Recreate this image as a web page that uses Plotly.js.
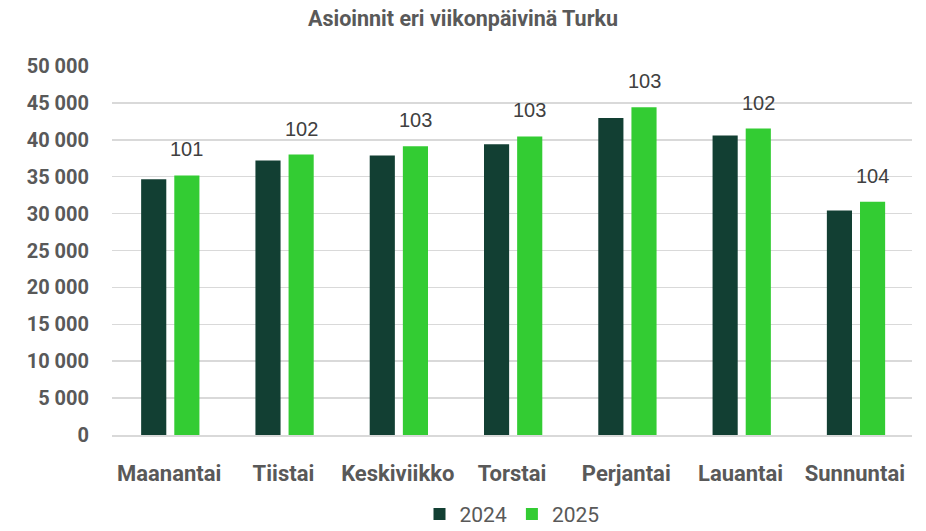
<!DOCTYPE html>
<html><head><meta charset="utf-8">
<script src="https://cdn.plot.ly/plotly-3.0.1.min.js"></script>
<style>html,body{margin:0;padding:0;background:#fff}#chart{width:926px;height:531px}</style>
</head><body><div id="chart"></div>
<script>
const categories = ["Maanantai","Tiistai","Keskiviikko","Torstai","Perjantai","Lauantai","Sunnuntai"];
const values2024 = [34670, 37200, 37880, 39410, 42970, 40590, 30430];
const values2025 = [35170, 38000, 39140, 40450, 44420, 41530, 31600];
const indexLabels = ["101","102","103","103","103","102","104"];
const yTickVals = [0,5000,10000,15000,20000,25000,30000,35000,40000,45000,50000];
const yTickText = ["0","5 000","10 000","15 000","20 000","25 000","30 000","35 000","40 000","45 000","50 000"];

const font = 'Roboto, "Liberation Sans", sans-serif';

const traces = [
  {type:'bar', name:'2024', x:categories, y:values2024, width:0.22, offset:-0.245,
   marker:{color:'#123F33'}, hoverinfo:'skip'},
  {type:'bar', name:'2025', x:categories, y:values2025, width:0.22, offset:0.045,
   marker:{color:'#33CC33'}, hoverinfo:'skip'}
];

const annotations = categories.map((c,i)=>({
  x:c, y:values2025[i], xref:'x', yref:'y', xshift:(0.045+0.11)*114.3,
  text:indexLabels[i], showarrow:false, yanchor:'bottom', yshift:13,
  font:{family:'"Liberation Sans", Arial, sans-serif', size:20, color:'#404040'}
}));

const layout = {
  width:926, height:531,
  margin:{l:112, r:14, t:66, b:96, autoexpand:false},
  paper_bgcolor:'#fff', plot_bgcolor:'#fff',
  title:{text:'<b>Asioinnit eri viikonpäivinä Turku</b>', x:0.5, xanchor:'center', y:0.965, yanchor:'middle',
    font:{family:font, size:21.5, color:'#595959'}},
  showlegend:true,
  legend:{orientation:'h', x:0.5, xanchor:'center', y:-0.215, yanchor:'middle',
    font:{family:font, size:21, color:'#595959'}, traceorder:'normal', itemwidth:30},
  xaxis:{type:'category', showgrid:false, showline:true, linecolor:'#d9d9d9', linewidth:2, automargin:false,
    tickfont:{family:font, size:22, color:'#595959', weight:'bold'}, ticks:'', ticklabelstandoff:18, fixedrange:true},
  yaxis:{range:[0,50000], tickvals:yTickVals, ticktext:yTickText, showgrid:true, gridcolor:'#d9d9d9', gridwidth:1.5,
    zeroline:false, showline:false, ticks:'', ticklabelstandoff:22, automargin:false,
    tickfont:{family:font, size:20, color:'#595959', weight:'bold'}},
  annotations:annotations
};

Plotly.newPlot('chart', traces, layout, {staticPlot:true, displayModeBar:false});
</script></body></html>
